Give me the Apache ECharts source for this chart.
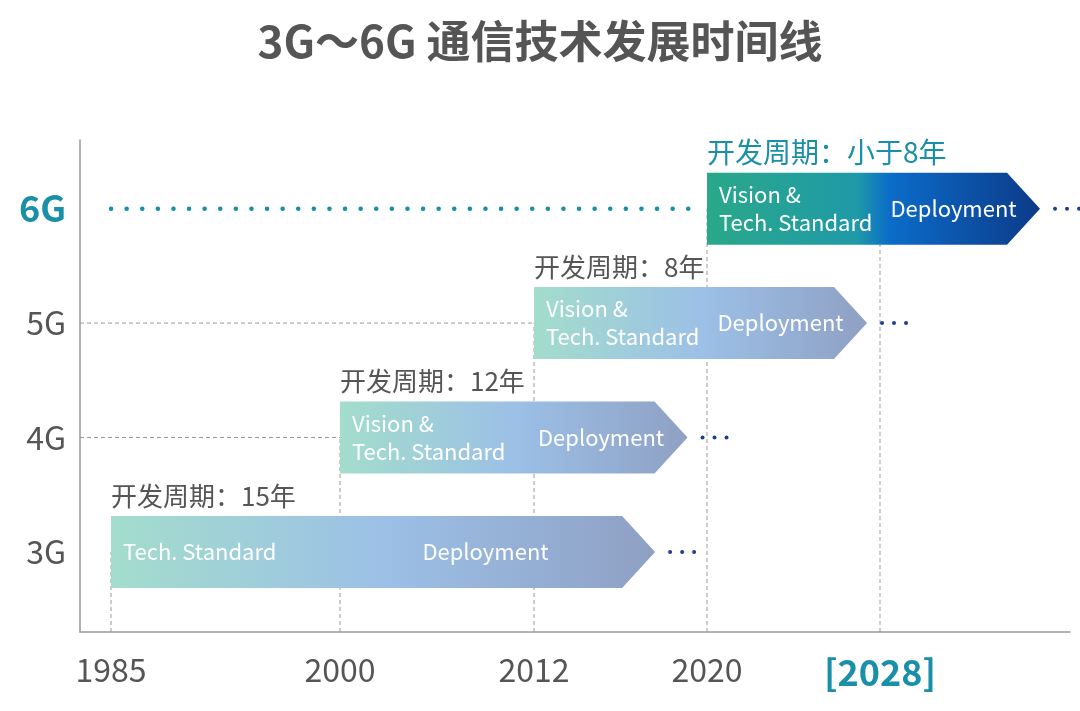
<!DOCTYPE html>
<html>
<head>
<meta charset="utf-8">
<script src="https://cdn.jsdelivr.net/npm/echarts@6/dist/echarts.min.js"></script>
<style>html,body{margin:0;padding:0;background:#fff}#main{width:1080px;height:711px}</style>
</head>
<body>
<div id="main"></div>
<script>
// 数据
var gens = ['3G', '4G', '5G', '6G'];
var startYears = [1985, 2000, 2012, 2020];
var endYears = [2017.6, 2019.1, 2027.4, 2035.4];
var cycles = ['开发周期：15年', '开发周期：12年', '开发周期：8年', '开发周期：小于8年'];
var phase1 = ['Tech. Standard', 'Vision &\nTech. Standard', 'Vision &\nTech. Standard', 'Vision &\nTech. Standard'];
var deployCenter = [2009, 2015.1, 2023.4, 2031.4];
var tickYears = [1985, 2000, 2012, 2020, 2028];
// 非均匀时间轴：各刻度年份在轴上的位置
var tickPos = [0, 229, 423, 596, 769];

function yearToAxis(y) {
    for (var i = 0; i < tickYears.length - 1; i++) {
        if (y <= tickYears[i + 1] || i === tickYears.length - 2) {
            var t = (y - tickYears[i]) / (tickYears[i + 1] - tickYears[i]);
            return tickPos[i] + t * (tickPos[i + 1] - tickPos[i]);
        }
    }
}

var chart = echarts.init(document.getElementById('main'));
var font = '"Noto Sans CJK SC", "Noto Sans", sans-serif';

var rows = gens.map(function (g, i) {
    return [yearToAxis(startYears[i]), i, yearToAxis(endYears[i]), yearToAxis(deployCenter[i])];
});

function renderBar(params, api) {
    var i = params.dataIndex;
    var s = api.coord([api.value(0), api.value(1)]);
    var e = api.coord([api.value(2), api.value(1)]);
    var dc = api.coord([api.value(3), api.value(1)]);
    var h = 36, head = 33;
    var is6 = i === 3;
    var stops = is6
        ? [{offset: 0, color: '#2aa889'}, {offset: 0.45, color: '#1f9aa8'}, {offset: 0.55, color: '#0b6cc9'}, {offset: 1, color: '#0d3a88'}]
        : [{offset: 0, color: '#a3ddcc'}, {offset: 0.5, color: '#9cc0e6'}, {offset: 1, color: '#8fa0c4'}];
    var children = [{
        type: 'polygon',
        shape: {points: [[s[0], s[1] - h], [e[0] - head, s[1] - h], [e[0], s[1]], [e[0] - head, s[1] + h], [s[0], s[1] + h]]},
        style: {fill: new echarts.graphic.LinearGradient(0, 0, 1, 0, stops)}
    }, {
        type: 'text',
        style: {x: s[0] + 12, y: s[1], text: phase1[i], fill: '#fff', font: '22px ' + font, verticalAlign: 'middle', lineHeight: 28}
    }, {
        type: 'text',
        style: {x: dc[0], y: s[1], text: 'Deployment', fill: '#fff', font: '22px ' + font, align: 'center', verticalAlign: 'middle'}
    }, {
        type: 'text',
        style: {x: s[0], y: s[1] - h - 20, text: cycles[i], fill: is6 ? '#1a8fa8' : '#555', font: (is6 ? '28px ' : '26px ') + font, verticalAlign: 'middle'}
    }];
    for (var k = 0; k < 3; k++) {
        children.push({type: 'circle', shape: {cx: e[0] + 15 + k * 12, cy: s[1], r: 2}, style: {fill: '#1c3f8c'}});
    }
    return {type: 'group', children: children};
}

function renderGuide(params, api) {
    var i = params.dataIndex;
    var s = api.coord([api.value(0), api.value(1)]);
    var base = api.coord([api.value(0), -0.7]);
    var left = api.coord([-31, api.value(1)]);
    var ls = {stroke: '#999', lineWidth: 1, lineDash: [4, 3]};
    var children = [{type: 'line', shape: {x1: s[0], y1: base[1], x2: s[0], y2: s[1]}, style: ls}];
    if (i === 1 || i === 2) {
        children.push({type: 'line', shape: {x1: left[0], y1: s[1], x2: s[0], y2: s[1]}, style: ls});
    }
    if (i === 3) {
        var c = api.coord([yearToAxis(2028), 3]);
        children.push({type: 'line', shape: {x1: c[0], y1: base[1], x2: c[0], y2: c[1]}, style: ls});
    }
    return {type: 'group', children: children};
}

chart.setOption({
    backgroundColor: '#fff',
    title: {
        text: '3G～6G 通信技术发展时间线',
        left: 'center',
        top: 14,
        textStyle: {fontSize: 44, fontWeight: 'bold', color: '#555', fontFamily: font}
    },
    grid: {left: 80, right: 10, top: 140, bottom: 79},
    xAxis: {
        type: 'value',
        min: -31,
        max: 959,
        splitLine: {show: false},
        axisTick: {show: false},
        axisLine: {onZero: false, lineStyle: {color: '#999', width: 1.5}},
        axisLabel: {
            customValues: tickPos,
            margin: 22,
            formatter: function (v) {
                var y = tickYears[tickPos.indexOf(v)];
                return y === 2028 ? '{hl|[2028]}' : String(y);
            },
            color: '#555',
            fontSize: 32,
            fontFamily: font,
            rich: {hl: {color: '#1a8fa8', fontSize: 36, fontWeight: 'bold', fontFamily: font}}
        }
    },
    yAxis: {
        type: 'value',
        min: -0.7,
        max: 3.6,
        splitLine: {show: false},
        axisTick: {show: false},
        axisLine: {show: true, onZero: false, lineStyle: {color: '#999', width: 1.5}},
        axisLabel: {
            customValues: [0, 1, 2, 3],
            margin: 14,
            formatter: function (v) {
                return v === 3 ? '{hl|6G}' : gens[v];
            },
            color: '#555',
            fontSize: 32,
            fontFamily: font,
            rich: {hl: {color: '#1a8fa8', fontSize: 36, fontWeight: 'bold', fontFamily: font}}
        }
    },
    series: [
        {type: 'custom', renderItem: renderGuide, data: rows, z: 1, silent: true},
        {
            type: 'line',
            data: [[yearToAxis(1985), 3], [yearToAxis(2019.3), 3]],
            symbol: 'none',
            lineStyle: {color: '#1a8fa8', width: 4.5, type: [0.1, 15.5], cap: 'round'},
            z: 2,
            silent: true
        },
        {type: 'custom', renderItem: renderBar, data: rows, z: 3}
    ]
});
</script>
</body>
</html>
